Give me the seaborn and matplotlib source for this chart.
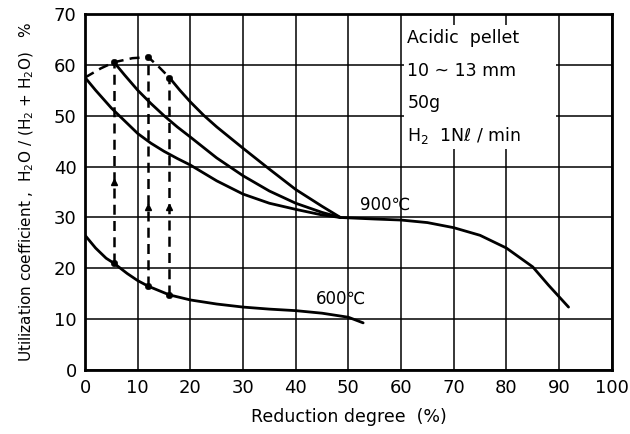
import matplotlib
matplotlib.use("Agg")
import matplotlib.pyplot as plt
import seaborn as sns

# ---- data ----
c900_a_x = [0, 2, 5, 7.5, 10, 12.5, 15, 17.5, 20, 25, 30, 35, 40, 45, 48.5]
c900_a_y = [57.5, 55, 51.5, 49, 46.5, 44.6, 43, 41.6, 40.3, 37.2, 34.6, 32.8, 31.6, 30.5, 30]
c900_b_x = [5.5, 7.5, 10, 12.5, 15, 17.5, 20, 25, 30, 35, 40, 45, 48.5]
c900_b_y = [60.5, 58, 55, 52.4, 50, 47.8, 45.8, 41.7, 38.2, 35.2, 32.8, 31, 30]
c900_c_x = [16, 18, 20, 22.5, 25, 30, 35, 40, 45, 48.5]
c900_c_y = [57.5, 55, 52.7, 50.1, 47.8, 43.6, 39.5, 35.5, 32.2, 30]
c900_tail_x = [48.5, 55, 60, 65, 70, 75, 80, 85, 88, 91.8]
c900_tail_y = [30, 29.7, 29.5, 29, 28, 26.5, 24, 20.3, 16.7, 12.4]
c600_x = [0, 2, 4, 5.5, 8, 10, 12, 16, 20, 25, 30, 35, 40, 45, 50, 52.8]
c600_y = [26.5, 24, 22, 21, 19, 17.6, 16.5, 14.8, 13.8, 13, 12.4, 12, 11.7, 11.2, 10.4, 9.3]
envelope_x = [0, 3, 5.5, 9, 12, 14, 16]
envelope_y = [57.5, 59.3, 60.5, 61.3, 61.5, 59.6, 57.5]
switch_x = [5.5, 12, 16]
switch_low = [21, 16.5, 14.8]
switch_high = [60.5, 61.5, 57.5]
arrow_y = [37, 32, 32]
x_ticks = list(range(0, 101, 10))
y_ticks = list(range(0, 71, 10))
info_lines = ["Acidic  pellet", "10 ~ 13 mm", "50g", "H$_2$  1N\u2113 / min"]
info_y = [65.3, 58.7, 52.4, 46.2]

sns.set_style("white")
plt.rcParams['font.family'] = ['DejaVu Sans']
plt.rcParams['text.color'] = 'black'
plt.rcParams['axes.labelcolor'] = 'black'
plt.rcParams['xtick.color'] = 'black'
plt.rcParams['ytick.color'] = 'black'

fig = plt.figure(figsize=(6.3, 4.34), dpi=100)
ax = fig.add_axes([0.135, 0.147, 0.836, 0.821])

lw = 2.0
solid = [(c900_a_x, c900_a_y), (c900_b_x, c900_b_y), (c900_c_x, c900_c_y),
         (c900_tail_x, c900_tail_y), (c600_x, c600_y)]
for xs, ys in solid:
    sns.lineplot(x=xs, y=ys, ax=ax, color="black", linewidth=lw, sort=False,
                 estimator=None, zorder=5)

sns.lineplot(x=envelope_x, y=envelope_y, ax=ax, color="black", linewidth=1.8,
             sort=False, estimator=None, linestyle=(0, (4, 2.5)), zorder=5)

for sx, lo, hi, ay in zip(switch_x, switch_low, switch_high, arrow_y):
    sns.lineplot(x=[sx, sx], y=[lo, hi], ax=ax, color="black", linewidth=1.8,
                 sort=False, estimator=None, linestyle=(0, (4, 2.5)), zorder=5)
    ax.plot([sx], [ay], marker="^", color="black", markersize=5, zorder=6)

sns.scatterplot(x=switch_x + switch_x, y=switch_low + switch_high, ax=ax,
                color="black", s=22, zorder=7, edgecolor="black")

ax.set_xlim(0, 100)
ax.set_ylim(0, 70)
ax.set_xticks(x_ticks)
ax.set_yticks(y_ticks)
ax.tick_params(axis="both", length=0, labelsize=13, pad=6, colors="black")
ax.grid(True, color="black", linewidth=1.1, zorder=0)
ax.set_axisbelow(True)
for s in ax.spines.values():
    s.set_color("black")
    s.set_linewidth(2)

# white panel behind annotation text (grid lines at x=60 and x=90 stay visible)
ax.add_patch(plt.Rectangle((60.6, 43.5), 28.8, 24.3, facecolor="white",
                           edgecolor="none", zorder=2))
for t, ty in zip(info_lines, info_y):
    ax.text(61.2, ty, t, fontsize=12.5, va="center", ha="left", zorder=8,
            color="black")

ax.text(57, 32.5, "900\u2103", fontsize=12, ha="center", va="center", zorder=8,
        color="black")
ax.text(48.5, 14, "600\u2103", fontsize=12, ha="center", va="center", zorder=8,
        color="black")

ax.set_xlabel("Reduction degree  (%)", fontsize=12.5, labelpad=8)
ax.set_ylabel("Utilization coefficient ,  H$_2$O / (H$_2$ + H$_2$O)   %",
              fontsize=11, labelpad=13)

fig.savefig("out.png", dpi=100)
